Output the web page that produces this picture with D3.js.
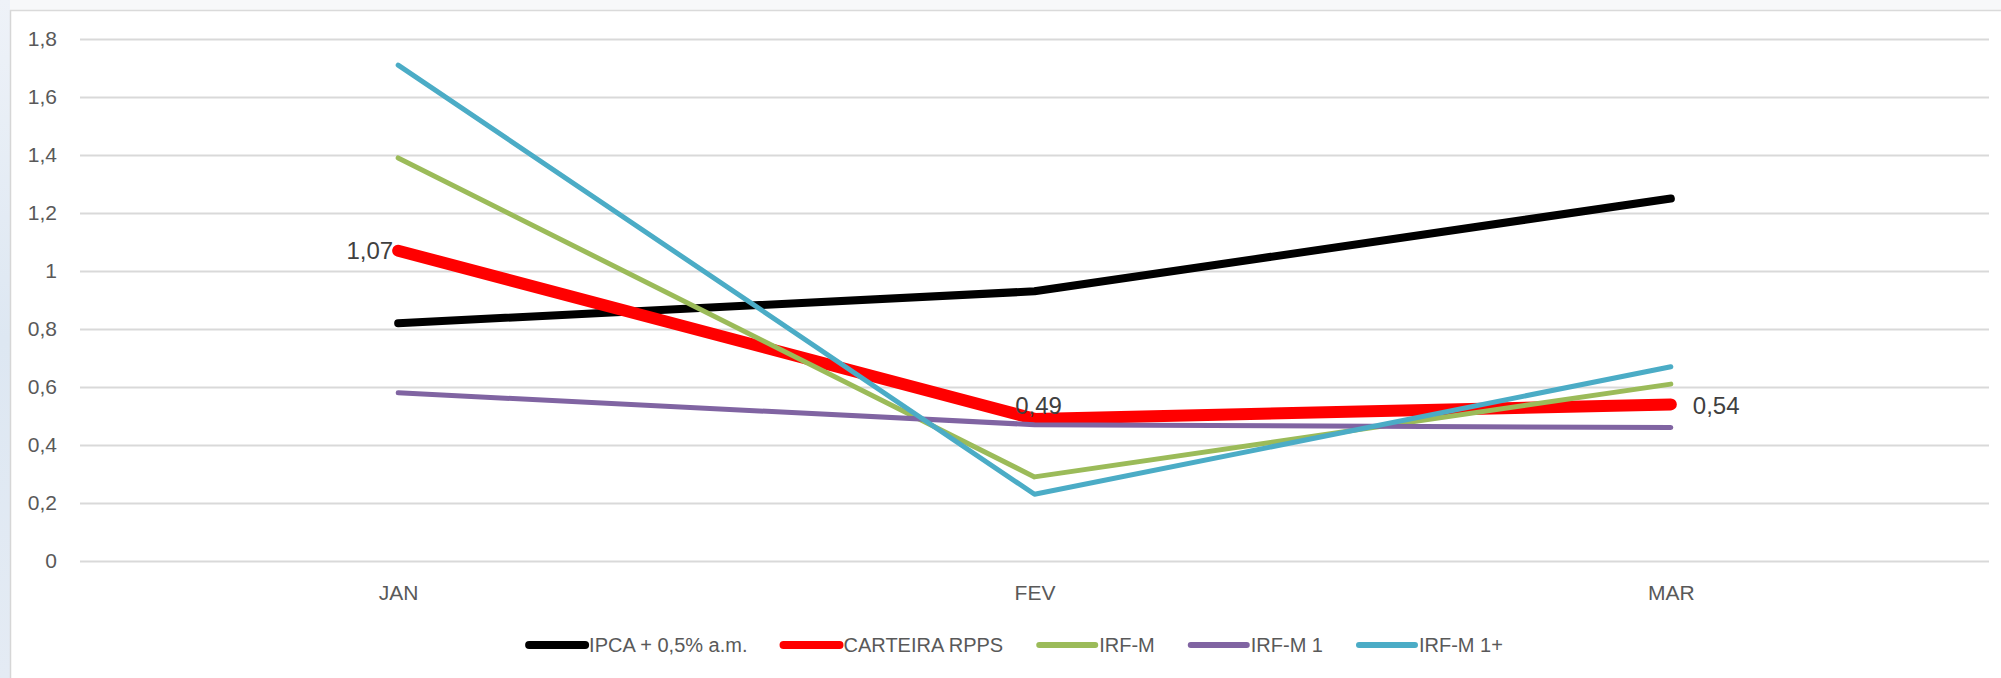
<!DOCTYPE html>
<html>
<head>
<meta charset="utf-8">
<script src="https://cdn.jsdelivr.net/npm/d3@7"></script>
<style>
  body { margin: 0; background: #fff; }
  svg { display: block; font-family: 'Liberation Sans', Arial, sans-serif; }
</style>
</head>
<body>
<div class="chart"></div>
<script>
var months = ['JAN', 'FEV', 'MAR'];
var seriesNames = ['IPCA + 0,5% a.m.', 'CARTEIRA RPPS', 'IRF-M', 'IRF-M 1', 'IRF-M 1+'];
var ipca = [0.82, 0.93, 1.25];
var carteira = [1.07, 0.49, 0.54];
var irfm = [1.39, 0.29, 0.61];
var irfm1 = [0.58, 0.47, 0.46];
var irfm1plus = [1.71, 0.23, 0.67];
var yTicks = [0, 0.2, 0.4, 0.6, 0.8, 1, 1.2, 1.4, 1.6, 1.8];

var colors = ['#000000', '#ff0000', '#9bbb59', '#8064a2', '#4bacc6'];
var widths = [8, 12, 5, 5, 5];
var allSeries = [ipca, carteira, irfm, irfm1, irfm1plus];

var W = 2001, H = 678;
var margin = {top: 39, right: 12, bottom: 117, left: 80};
var width = W - margin.left - margin.right;
var height = H - margin.top - margin.bottom;

var svg = d3.select('.chart')
  .append('svg')
    .attr('width', W)
    .attr('height', H);

// frame: light strips on top and left, like the slide background
var defs = svg.append('defs');
var grad = defs.append('linearGradient')
    .attr('id', 'leftStrip')
    .attr('x1', 0).attr('y1', 0).attr('x2', 0).attr('y2', 1);
grad.append('stop').attr('offset', '0%').attr('stop-color', '#eef2f8');
grad.append('stop').attr('offset', '50%').attr('stop-color', '#dde7f2');
grad.append('stop').attr('offset', '100%').attr('stop-color', '#e4ebf4');

svg.append('rect').attr('x', 0).attr('y', 0).attr('width', W).attr('height', 10).attr('fill', '#f7f8fa');
svg.append('rect').attr('x', 0).attr('y', 0).attr('width', 10).attr('height', H).attr('fill', 'url(#leftStrip)');
svg.append('line').attr('x1', 10.5).attr('x2', 10.5).attr('y1', 10).attr('y2', H)
  .attr('stroke', '#d6d6d6').attr('stroke-width', 1.5);
svg.append('line').attr('x1', 10).attr('x2', W).attr('y1', 10.5).attr('y2', 10.5)
  .attr('stroke', '#dadada').attr('stroke-width', 1.5);

var g = svg.append('g')
  .attr('transform', `translate(${margin.left}, ${margin.top})`);

var xScale = d3.scalePoint()
  .domain(months)
  .range([0, width])
  .padding(0.5);

var yScale = d3.scaleLinear()
  .domain([0, 1.8])
  .range([height, 0]);

// gridlines + y labels
var yAxis = g.append('g')
  .call(d3.axisLeft(yScale)
    .tickValues(yTicks)
    .tickSize(-width)
    .tickPadding(23)
    .tickFormat(d => String(d).replace('.', ',')));
yAxis.select('.domain').remove();
yAxis.selectAll('.tick line').attr('stroke', '#d9d9d9').attr('stroke-width', 2);
yAxis.selectAll('.tick text')
  .attr('fill', '#595959')
  .style('font-size', '21px')
  .style('font-family', "'Liberation Sans', Arial, sans-serif");

// x labels
var xAxis = g.append('g')
  .attr('transform', `translate(0, ${height})`)
  .call(d3.axisBottom(xScale).tickSize(0).tickPadding(24));
xAxis.select('.domain').remove();
xAxis.selectAll('.tick text')
  .attr('fill', '#595959')
  .style('font-size', '21px')
  .style('font-family', "'Liberation Sans', Arial, sans-serif");

var line = d3.line()
  .x((d, i) => xScale(months[i]))
  .y(d => yScale(d));

// series order as in the original: later ones on top
allSeries.forEach(function(s, k) {
  g.append('path')
    .datum(s)
    .attr('fill', 'none')
    .attr('stroke', colors[k])
    .attr('stroke-width', widths[k])
    .attr('stroke-linecap', 'round')
    .attr('stroke-linejoin', 'round')
    .attr('d', line);
});

// data labels for CARTEIRA RPPS
var labelFmt = d => d.toFixed(2).replace('.', ',');
var labels = g.append('g')
  .style('font-size', '24px')
  .attr('fill', '#404040');
labels.append('text')
  .attr('x', xScale(months[0]) - 5)
  .attr('y', yScale(carteira[0]) + 8)
  .attr('text-anchor', 'end')
  .text(labelFmt(carteira[0]));
labels.append('text')
  .attr('x', xScale(months[1]) + 4)
  .attr('y', yScale(carteira[1]) - 5)
  .attr('text-anchor', 'middle')
  .text(labelFmt(carteira[1]));
labels.append('text')
  .attr('x', xScale(months[2]) + 22)
  .attr('y', yScale(carteira[2]) + 10)
  .attr('text-anchor', 'start')
  .text(labelFmt(carteira[2]));

// legend
var legend = svg.append('g')
  .attr('transform', 'translate(0, 645)');
var items = legend.selectAll('g.item')
  .data(seriesNames)
  .enter()
  .append('g')
  .attr('class', 'item');
items.append('line')
  .attr('x1', 0).attr('x2', 56)
  .attr('y1', 0).attr('y2', 0)
  .attr('stroke', (d, i) => colors[i])
  .attr('stroke-width', (d, i) => i < 2 ? 8 : 6)
  .attr('stroke-linecap', 'round');
items.append('text')
  .attr('x', 60)
  .attr('y', 7)
  .attr('fill', '#595959')
  .style('font-size', '20px')
  .text(d => d);

var xPos = 0, offsets = [];
items.each(function(d, i) {
  offsets.push(xPos);
  var w = d3.select(this).select('text').node().getComputedTextLength();
  xPos += 60 + w + 36;
});
var total = xPos - 36;
var start = 1016 - total / 2;
items.attr('transform', (d, i) => `translate(${start + offsets[i]}, 0)`);
</script>
</body>
</html>
